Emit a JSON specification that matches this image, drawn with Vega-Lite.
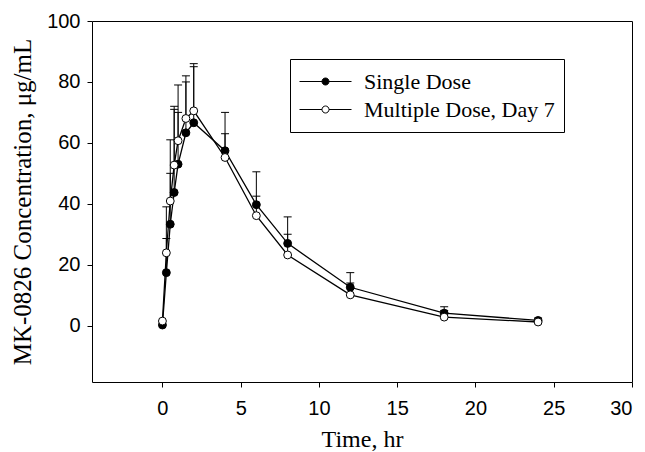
{
  "$schema": "https://vega.github.io/schema/vega-lite/v6.json",
  "width": 540,
  "height": 361,
  "autosize": {"type": "none"},
  "padding": {"left": 92, "top": 21, "right": 13, "bottom": 70},
  "background": "white",
  "config": {
    "view": {"stroke": "black", "strokeWidth": 1},
    "axis": {
      "domain": false,
      "grid": false,
      "ticks": true,
      "tickColor": "black",
      "tickSize": 5,
      "labelFont": "Liberation Sans",
      "labelFontSize": 20,
      "labelColor": "black",
      "titleFont": "Liberation Serif",
      "titleFontSize": 24,
      "titleFontWeight": "normal",
      "titleColor": "black"
    }
  },
  "data": {
    "values": [
      {"t": 0, "series": "Single Dose", "c": 0.2, "hi": null},
      {"t": 0.25, "series": "Single Dose", "c": 17.4, "hi": 28.6},
      {"t": 0.5, "series": "Single Dose", "c": 33.3, "hi": 50},
      {"t": 0.75, "series": "Single Dose", "c": 43.7, "hi": 71},
      {"t": 1, "series": "Single Dose", "c": 53, "hi": 70},
      {"t": 1.5, "series": "Single Dose", "c": 63.3, "hi": 80},
      {"t": 2, "series": "Single Dose", "c": 66.6, "hi": 85},
      {"t": 4, "series": "Single Dose", "c": 57.4, "hi": 70},
      {"t": 6, "series": "Single Dose", "c": 39.7, "hi": 50.5},
      {"t": 8, "series": "Single Dose", "c": 27, "hi": 35.7},
      {"t": 12, "series": "Single Dose", "c": 12.6, "hi": 17.4},
      {"t": 18, "series": "Single Dose", "c": 4.1, "hi": 6.2},
      {"t": 24, "series": "Single Dose", "c": 1.7, "hi": 2.5},
      {"t": 0, "series": "Multiple Dose, Day 7", "c": 1.5, "hi": null},
      {"t": 0.25, "series": "Multiple Dose, Day 7", "c": 23.9, "hi": 39},
      {"t": 0.5, "series": "Multiple Dose, Day 7", "c": 40.9, "hi": 61},
      {"t": 0.75, "series": "Multiple Dose, Day 7", "c": 52.7, "hi": 72},
      {"t": 1, "series": "Multiple Dose, Day 7", "c": 60.7, "hi": 79},
      {"t": 1.5, "series": "Multiple Dose, Day 7", "c": 68, "hi": 82},
      {"t": 2, "series": "Multiple Dose, Day 7", "c": 70.5, "hi": 86},
      {"t": 4, "series": "Multiple Dose, Day 7", "c": 55.2, "hi": 63},
      {"t": 6, "series": "Multiple Dose, Day 7", "c": 36.1, "hi": 42.5},
      {"t": 8, "series": "Multiple Dose, Day 7", "c": 23.2, "hi": 30},
      {"t": 12, "series": "Multiple Dose, Day 7", "c": 10.1, "hi": 14},
      {"t": 18, "series": "Multiple Dose, Day 7", "c": 2.8, "hi": 5},
      {"t": 24, "series": "Multiple Dose, Day 7", "c": 1.2, "hi": 2}
    ]
  },
  "encoding": {
    "x": {
      "field": "t",
      "type": "quantitative",
      "scale": {"domain": [-4.5, 30], "nice": false, "zero": false},
      "axis": {"title": "Time, hr", "values": [0, 5, 10, 15, 20, 25, 30], "labelPadding": 11, "titlePadding": 9}
    },
    "y": {
      "field": "c",
      "type": "quantitative",
      "scale": {"domain": [-18.5, 100], "nice": false, "zero": false},
      "axis": {"title": "MK-0826 Concentration, μg/mL", "titleFontSize": 25, "values": [0, 20, 40, 60, 80, 100], "labelPadding": 7, "titlePadding": 11}
    }
  },
  "layer": [
    {
      "transform": [{"filter": "isValid(datum.hi)"}],
      "mark": {"type": "rule", "color": "black", "strokeWidth": 1},
      "encoding": {"y2": {"field": "hi"}}
    },
    {
      "transform": [{"filter": "isValid(datum.hi)"}],
      "mark": {"type": "tick", "orient": "horizontal", "color": "black", "size": 8, "thickness": 1, "opacity": 1},
      "encoding": {"y": {"field": "hi", "type": "quantitative"}}
    },
    {
      "mark": {"type": "line", "color": "black", "strokeWidth": 1.3},
      "encoding": {"detail": {"field": "series"}}
    },
    {
      "mark": {"type": "point", "shape": "circle", "filled": true, "size": 62, "stroke": "black", "strokeWidth": 1, "opacity": 1},
      "encoding": {
        "fill": {
          "field": "series",
          "type": "nominal",
          "scale": {"domain": ["Single Dose", "Multiple Dose, Day 7"], "range": ["black", "white"]},
          "legend": {
            "title": null,
            "orient": "none",
            "legendX": 198,
            "legendY": 38,
            "direction": "vertical",
            "strokeColor": "black",
            "fillColor": "white",
            "padding": 9,
            "clipHeight": 27,
            "symbolType": "M-1,0H-0.135M0.135,0H1M-0.135,0A0.135,0.135 0 1,1 0.135,0A0.135,0.135 0 1,1 -0.135,0Z",
            "symbolSize": 2704,
            "symbolStrokeColor": "black",
            "symbolStrokeWidth": 1,
            "symbolOpacity": 1,
            "labelFont": "Liberation Serif",
            "labelFontSize": 22,
            "labelColor": "black",
            "labelOffset": 12,
            "labelLimit": 400,
            "rowPadding": 1
          }
        }
      }
    }
  ]
}
